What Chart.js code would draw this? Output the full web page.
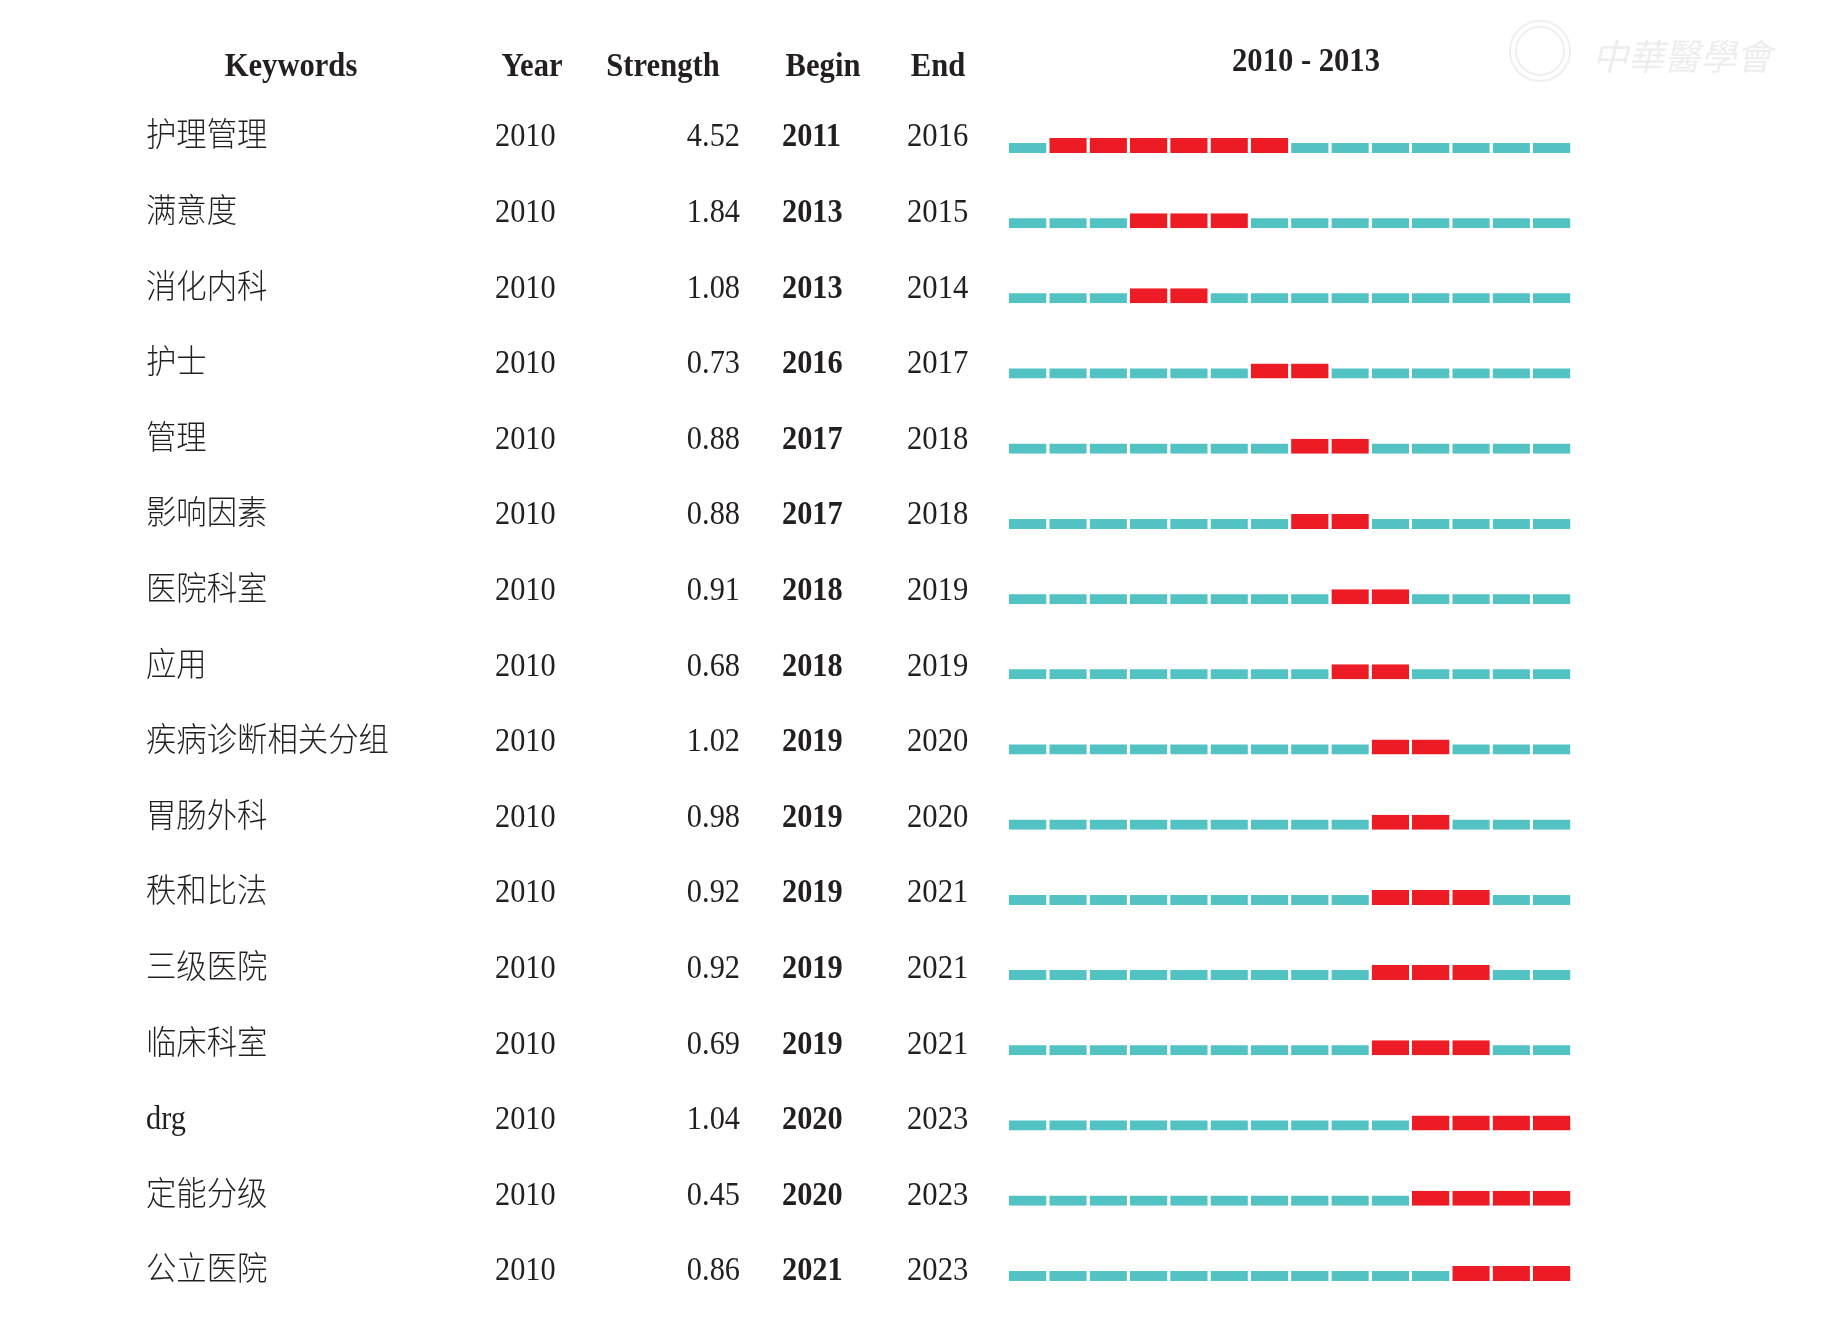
<!DOCTYPE html>
<html>
<head>
<meta charset="utf-8">
<script src="https://cdn.jsdelivr.net/npm/chart.js@4/dist/chart.umd.min.js"></script>
<style>
html,body{margin:0;padding:0;background:#fff;}
#wrap{width:1827px;height:1324px;}
</style>
</head>
<body>
<div id="wrap"><canvas id="c" width="1827" height="1324"></canvas></div>
<script>
const keywords = ['护理管理','满意度','消化内科','护士','管理','影响因素','医院科室','应用','疾病诊断相关分组','胃肠外科','秩和比法','三级医院','临床科室','drg','定能分级','公立医院'];
const years = [2010,2010,2010,2010,2010,2010,2010,2010,2010,2010,2010,2010,2010,2010,2010,2010];
const strengths = ['4.52','1.84','1.08','0.73','0.88','0.88','0.91','0.68','1.02','0.98','0.92','0.92','0.69','1.04','0.45','0.86'];
const begins = [2011,2013,2013,2016,2017,2017,2018,2018,2019,2019,2019,2019,2019,2020,2020,2021];
const ends = [2016,2015,2014,2017,2018,2018,2019,2019,2020,2020,2021,2021,2021,2023,2023,2023];
const headers = ['Keywords','Year','Strength','Begin','End'];
const periodTitle = '2010 - 2013';
const firstYear = 2010;
const lastYear = 2023;
const watermark = '中華醫學會';

const CYAN = '#52c2c3';
const RED = '#ed1c24';
const INK = '#231f20';

const normalCells = [];
const burstCells = [];
keywords.forEach((k, i) => {
  for (let y = firstYear; y <= lastYear; y++) {
    const cell = {x: [y, y + 1], y: k};
    if (y >= begins[i] && y <= ends[i]) burstCells.push(cell); else normalCells.push(cell);
  }
});

function txt(ctx, s, x, y, align, font, sx, color) {
  ctx.save();
  ctx.font = font;
  ctx.fillStyle = color || INK;
  ctx.textAlign = align;
  ctx.textBaseline = 'alphabetic';
  ctx.translate(x, y);
  ctx.scale(sx, 1);
  ctx.fillText(s, 0, 0);
  ctx.restore();
}

const SERIF = "'Liberation Serif','Noto Sans CJK SC',serif";
const tablePlugin = {
  id: 'tableText',
  afterDraw(chart) {
    const ctx = chart.ctx;
    const ys = chart.scales.y;
    const hFont = 'bold 34px ' + SERIF;
    const hBase = 76;
    const cols = [291, 532, 663, 823, 938];
    headers.forEach((h, i) => txt(ctx, h, cols[i], hBase, 'center', hFont, 0.9));
    txt(ctx, periodTitle, 1306, 71, 'center', hFont, 0.9);

    const rFont = '300 33px ' + SERIF;
    const bFont = 'bold 33px ' + SERIF;
    keywords.forEach((k, i) => {
      const base = ys.getPixelForValue(i) + 1 + i * 0.4;
      txt(ctx, k, 146, base, 'left', rFont, 0.92);
      txt(ctx, String(years[i]), 495, base, 'left', rFont, 0.92);
      txt(ctx, strengths[i], 740, base, 'right', rFont, 0.92);
      txt(ctx, String(begins[i]), 782, base, 'left', bFont, 0.92);
      txt(ctx, String(ends[i]), 907, base, 'left', rFont, 0.93);
    });

    // faint watermark
    ctx.save();
    ctx.strokeStyle = '#efefef';
    ctx.lineWidth = 2;
    ctx.beginPath();
    ctx.arc(1540, 51, 30, 0, Math.PI * 2);
    ctx.stroke();
    ctx.beginPath();
    ctx.arc(1540, 51, 24, 0, Math.PI * 2);
    ctx.stroke();
    ctx.restore();
    txt(ctx, watermark, 1592, 70, 'left', "italic 36px 'Noto Sans CJK TC','Noto Sans CJK SC',sans-serif", 1.0, '#ededed');
  }
};

new Chart(document.getElementById('c'), {
  type: 'bar',
  data: {
    labels: keywords,
    datasets: [
      {
        label: 'normal',
        data: normalCells,
        backgroundColor: CYAN,
        borderColor: 'rgba(0,0,0,0)',
        borderWidth: {top: 5, right: 3, bottom: 0, left: 0},
        borderSkipped: false,
        barThickness: 15,
        inflateAmount: 0
      },
      {
        label: 'burst',
        data: burstCells,
        backgroundColor: RED,
        borderColor: 'rgba(0,0,0,0)',
        borderWidth: {top: 0, right: 3, bottom: 0, left: 0},
        borderSkipped: false,
        barThickness: 15,
        inflateAmount: 0
      }
    ]
  },
  options: {
    indexAxis: 'y',
    responsive: false,
    animation: false,
    devicePixelRatio: 1,
    layout: {padding: {left: 1009, right: 253.8, top: 107.85, bottom: 13}},
    plugins: {legend: {display: false}, tooltip: {enabled: false}, title: {display: false}},
    scales: {
      x: {type: 'linear', min: firstYear, max: lastYear + 1, display: false},
      y: {type: 'category', labels: keywords, offset: true, display: false, grid: {display: false}, stacked: false}
    },
    datasets: {bar: {grouped: false}}
  },
  plugins: [tablePlugin]
});
</script>
</body>
</html>
